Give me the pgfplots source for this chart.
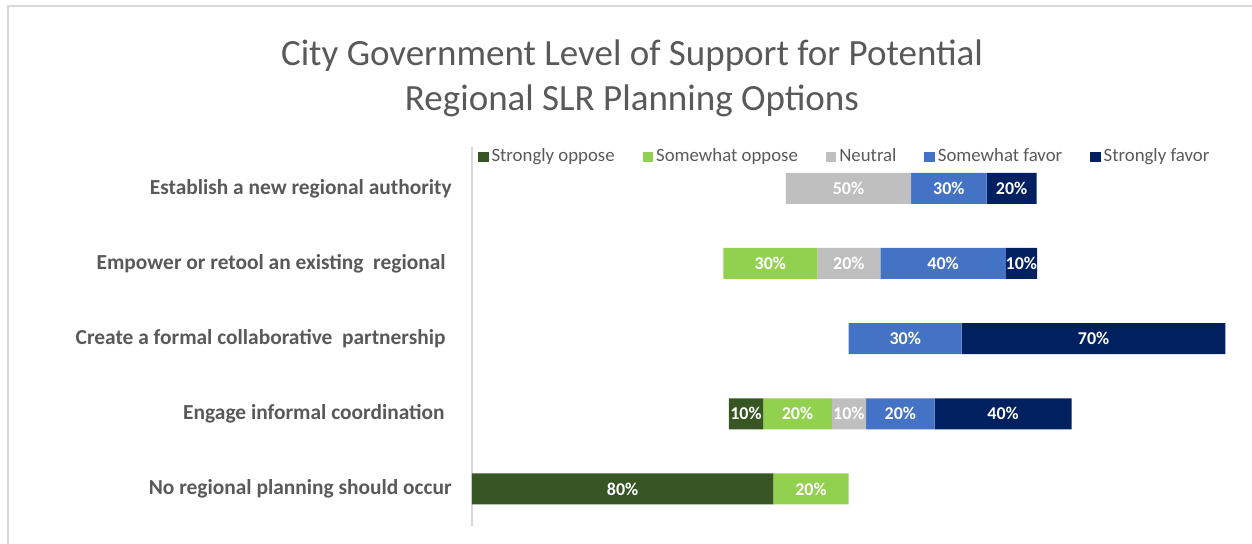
\documentclass[border=0pt]{standalone}
\usepackage{pgfplots}
\pgfplotsset{compat=1.18}
\usepackage{fontspec}
\setmainfont{Carlito}
\definecolor{sopp}{HTML}{375623}
\definecolor{wopp}{HTML}{92D050}
\definecolor{neut}{HTML}{BFBFBF}
\definecolor{wfav}{HTML}{4472C4}
\definecolor{sfav}{HTML}{002060}
\definecolor{titlegray}{HTML}{595959}
\definecolor{labgray}{HTML}{595959}
\definecolor{framegray}{HTML}{D9D9D9}
\begin{document}
\begin{tikzpicture}
\useasboundingbox (-236pt,-8.75pt) rectangle (390pt,263.25pt);
\draw[framegray, line width=0.8pt] (-232pt,-20pt) -- (-232pt,260.25pt) -- (400pt,260.25pt);
\node[text=titlegray, font=\fontsize{18.5}{22.5}\selectfont, align=center] at (80pt,224pt) {City Government Level of Support for Potential\\Regional SLR Planning Options};
\begin{axis}[
  at={(0,0)}, anchor=south west,
  scale only axis, width=382.35pt, height=189.75pt,
  xbar stacked, bar width=15.5pt,
  xmin=0, xmax=203, ymin=-0.55, ymax=4.5, y dir=reverse,
  axis x line=none, axis y line*=left,
  y axis line style={draw=framegray, line width=0.8pt},
  ytick={0,1,2,3,4}, major tick length=0pt,
  yticklabels={Establish a new regional authority, Empower or retool an existing\ \ regional\kern3pt, Create a formal collaborative\ \ partnership\kern3pt, Engage informal coordination\kern3.5pt, No regional planning should occur},
  yticklabel style={font=\bfseries\fontsize{10.7}{12}\selectfont, text=labgray, inner sep=0pt, xshift=-10pt},
  legend columns=-1,
  legend style={draw=none, fill=none, inner sep=0pt, anchor=west, at={(axis description cs:0.0075,0.974)},
    font=\fontsize{9.4}{11}\selectfont, text=titlegray,
    nodes={inner sep=1.5pt},
    /tikz/every even column/.append style={column sep=12.5pt}},
  legend image code/.code={\fill[#1,draw=none] (0pt,-2.6pt) rectangle (5.2pt,2.6pt);},
  every node near coord/.append style={anchor=center, font=\bfseries\fontsize{9}{10}\selectfont, text=white},
  lbl/.style={nodes near coords, point meta=explicit symbolic},
]
\addplot[draw=none, fill=none, forget plot] coordinates {(83.3,0) (66.7,1) (100,2) (68.2,3) (0,4)};
\addplot[fill=sopp, draw=none, lbl] coordinates {(0,0) [] (0,1) [] (0,2) [] (9.1,3) [10\%] (80,4) [80\%]};
\addlegendentry{Strongly oppose}
\addplot[fill=wopp, draw=none, lbl] coordinates {(0,0) [] (25,1) [30\%] (0,2) [] (18.2,3) [20\%] (20,4) [20\%]};
\addlegendentry{Somewhat oppose}
\addplot[fill=neut, draw=none, lbl] coordinates {(33.3,0) [50\%] (16.7,1) [20\%] (0,2) [] (9.1,3) [10\%] (0,4) []};
\addlegendentry{Neutral}
\addplot[fill=wfav, draw=none, lbl] coordinates {(20,0) [30\%] (33.3,1) [40\%] (30,2) [30\%] (18.2,3) [20\%] (0,4) []};
\addlegendentry{Somewhat favor}
\addplot[fill=sfav, draw=none, lbl] coordinates {(13.3,0) [20\%] (8.3,1) [10\%] (70,2) [70\%] (36.4,3) [40\%] (0,4) []};
\addlegendentry{Strongly favor}
\end{axis}
\end{tikzpicture}
\end{document}
